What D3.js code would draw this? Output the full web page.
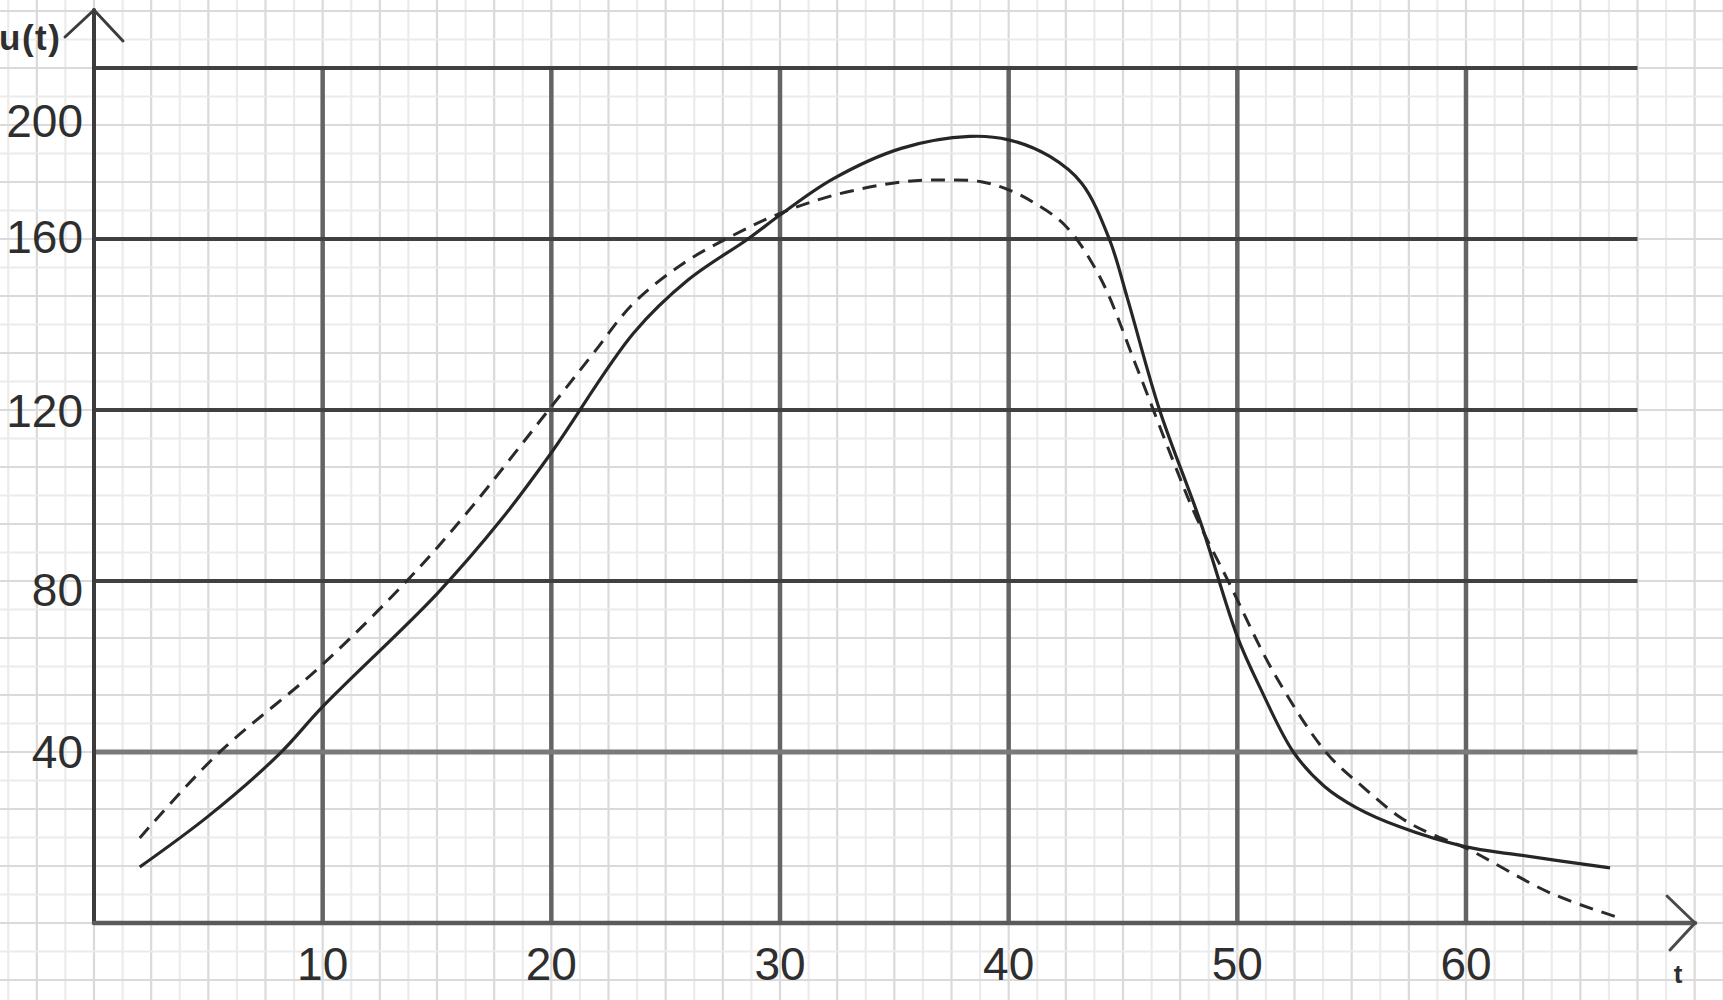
<!DOCTYPE html>
<html>
<head>
<meta charset="utf-8">
<script src="https://cdn.jsdelivr.net/npm/d3@7"></script>
<style>
  html, body { margin: 0; padding: 0; background: #fff; }
  svg { display: block; }
  text { font-family: "Liberation Sans", Arial, sans-serif; fill: #2e2e2e; }
</style>
</head>
<body>
<div id="d3-container"></div>
<script>
/**
 * CONSTANTS AND GLOBALS
 * */
const width = 1723,
  height = 1000;

// solid curve (t, u)
const solidT = [2.0, 5.0, 8.1, 10, 15, 17.8, 20, 23.6, 26, 28.6, 30, 32.3, 35.3, 38.3, 40, 41.8, 43.2, 44.4, 45.2, 46.6, 48.4, 50, 51, 52.45, 53.8, 55.2, 57.1, 60, 62.2, 66.3];
const solidU = [13.1, 25, 39.5, 50.6, 77, 94.3, 110, 138, 150.5, 160, 165.6, 174, 181.2, 184, 183.2, 179.3, 173, 160, 146, 120, 93.6, 67, 55, 40, 32, 27, 22.5, 17.8, 16, 12.9];

// dashed curve
const dashT = [2.0, 5.4, 9.9, 13.8, 16.3, 20, 21.8, 23.6, 25.8, 28, 30, 32.4, 35.4, 37.2, 38.8, 40, 41.1, 42.5, 44.0, 45.6, 47.2, 48.2, 49.6, 51.6, 53.9, 55.5, 57.1, 58.4, 60, 63.7, 66.6];
const dashU = [19.9, 39.5, 60, 80.7, 95.9, 120.8, 133, 145, 154.4, 161, 166, 170.3, 173.4, 173.8, 173.4, 171.5, 168.5, 163, 151, 130, 108, 95, 80, 58.5, 39.8, 31.8, 24.8, 21, 17.5, 7, 1.4];

// axis ticks
const xTicks = [10, 20, 30, 40, 50, 60];
const yTicks = [40, 80, 120, 160, 200];
const yTickLabels = ["40", "80", "120", "160", "200"];
// where the hand-placed labels sit, in u units
const yLabelAt = [40.2, 78, 120, 160.5, 187.8];

let svg, x, y;

function init() {
  svg = d3.select("#d3-container")
    .append("svg")
    .attr("width", width)
    .attr("height", height);

  x = d3.scaleLinear().domain([0, 60]).range([94, 1466]);
  y = d3.scaleLinear().domain([0, 200]).range([923, 68]);

  // graph paper background
  const xStep = 1.25, yStep = 20 / 3;
  const tMin = Math.floor(x.invert(0) / xStep), tMax = Math.ceil(x.invert(width) / xStep);
  const uMin = Math.floor(y.invert(height) / yStep), uMax = Math.ceil(y.invert(0) / yStep);

  const paper = svg.append("g").attr("class", "paper");
  paper.selectAll("line.vminor")
    .data(d3.range(tMin, tMax + 1))
    .join("line")
    .attr("class", "vminor")
    .attr("x1", k => x(k * xStep)).attr("x2", k => x(k * xStep))
    .attr("y1", 0).attr("y2", height)
    .attr("stroke", k => k % 2 === 0 ? "#dadada" : "#ebebeb")
    .attr("stroke-width", 2.2);
  paper.selectAll("line.hminor")
    .data(d3.range(uMin, uMax + 1))
    .join("line")
    .attr("class", "hminor")
    .attr("y1", k => y(k * yStep)).attr("y2", k => y(k * yStep))
    .attr("x1", 0).attr("x2", width)
    .attr("stroke", k => k % 2 === 0 ? "#dadada" : "#ebebeb")
    .attr("stroke-width", 2.2);

  // major grid
  const tEnd = 67.5;
  svg.append("g")
    .selectAll("line")
    .data(xTicks)
    .join("line")
    .attr("x1", d => x(d)).attr("x2", d => x(d))
    .attr("y1", y(0)).attr("y2", y(200))
    .attr("stroke", "#646464")
    .attr("stroke-width", 4.5);
  svg.append("g")
    .selectAll("line")
    .data(yTicks)
    .join("line")
    .attr("x1", x(0)).attr("x2", x(tEnd))
    .attr("y1", d => y(d)).attr("y2", d => y(d))
    .attr("stroke", d => d === 40 ? "#7a7a7a" : "#404040")
    .attr("stroke-width", d => d === 40 ? 5 : 4);

  // axes with open arrow heads
  const axes = svg.append("g").attr("fill", "none").attr("stroke-linecap", "round");
  const yTop = y.invert(10), xTip = x.invert(1695);
  axes.append("line")
    .attr("x1", x(0)).attr("x2", x(0))
    .attr("y1", y(0)).attr("y2", y(yTop))
    .attr("stroke", "#3c3c3c").attr("stroke-width", 4);
  axes.append("path")
    .attr("d", `M${x(0) - 29},${y(yTop) + 27}L${x(0)},${y(yTop)}L${x(0) + 29},${y(yTop) + 31}`)
    .attr("stroke", "#3c3c3c").attr("stroke-width", 3);
  axes.append("line")
    .attr("x1", x(0)).attr("x2", x(xTip))
    .attr("y1", y(0)).attr("y2", y(0))
    .attr("stroke", "#5a5a5a").attr("stroke-width", 4.5);
  axes.append("path")
    .attr("d", `M${x(xTip) - 28},${y(0) - 27}L${x(xTip)},${y(0)}L${x(xTip) - 25},${y(0) + 27}`)
    .attr("stroke", "#4a4a4a").attr("stroke-width", 3);

  // tick labels
  svg.append("g")
    .selectAll("text")
    .data(xTicks)
    .join("text")
    .attr("x", d => x(d))
    .attr("y", y(0) + 57)
    .attr("text-anchor", "middle")
    .attr("font-size", 46)
    .text(d => d);
  svg.append("g")
    .selectAll("text")
    .data(yTickLabels)
    .join("text")
    .attr("x", x(0) - 11)
    .attr("y", (d, i) => y(yLabelAt[i]))
    .attr("dy", "0.36em")
    .attr("text-anchor", "end")
    .attr("font-size", 46)
    .text(d => d);

  // axis names
  svg.append("text")
    .attr("x", -1).attr("y", 50)
    .attr("font-size", 35).attr("font-weight", "bold")
    .attr("letter-spacing", 1.5)
    .text("u(t)");
  svg.append("text")
    .attr("x", 1678).attr("y", 983)
    .attr("text-anchor", "middle")
    .attr("font-size", 26).attr("font-weight", "bold")
    .text("t");

  draw();
}

function draw() {
  const line = d3.line()
    .x(d => x(d[0]))
    .y(d => y(d[1]))
    .curve(d3.curveCatmullRom.alpha(0.5));

  const solid = solidT.map((t, i) => [t, solidU[i]]);
  const dashed = dashT.map((t, i) => [t, dashU[i]]);

  svg.append("path")
    .datum(dashed)
    .attr("fill", "none")
    .attr("stroke", "#2a2a2a")
    .attr("stroke-width", 3)
    .attr("stroke-dasharray", "14,9")
    .attr("d", line);

  svg.append("path")
    .datum(solid)
    .attr("fill", "none")
    .attr("stroke", "#262626")
    .attr("stroke-width", 3.2)
    .attr("d", line);
}

init();
</script>
</body>
</html>
